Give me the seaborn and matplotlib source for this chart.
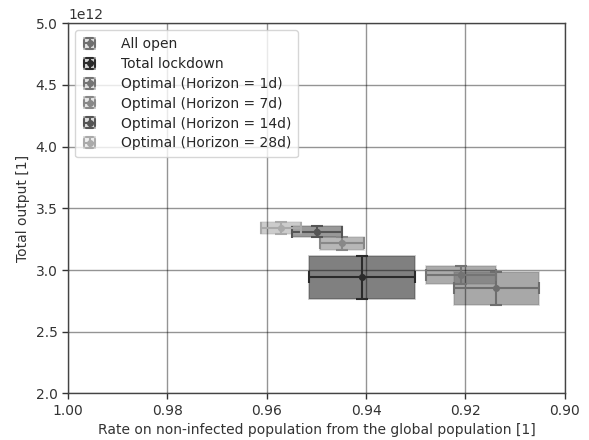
import numpy as np
import pandas as pd
import matplotlib
matplotlib.use("Agg")
import matplotlib.pyplot as plt
from matplotlib.patches import Rectangle
from matplotlib.lines import Line2D
from matplotlib.legend_handler import HandlerBase
from matplotlib.colors import to_rgba
import seaborn as sns

names = ["All open", "Total lockdown", "Optimal (Horizon = 1d)",
         "Optimal (Horizon = 7d)", "Optimal (Horizon = 14d)", "Optimal (Horizon = 28d)"]
rate_mean = [0.9138, 0.9408, 0.9209, 0.9449, 0.9499, 0.9571]
rate_std = [0.0086, 0.0106, 0.0071, 0.0044, 0.0051, 0.0040]
output_mean = [2.852e12, 2.941e12, 2.959e12, 3.217e12, 3.311e12, 3.338e12]
output_std = [0.133e12, 0.174e12, 0.071e12, 0.053e12, 0.043e12, 0.050e12]
colors = ["#6e6e6e", "#2b2b2b", "#747474", "#888888", "#555555", "#aaaaaa"]

df = pd.DataFrame({"name": names, "rate": rate_mean, "rate_std": rate_std,
                   "output": output_mean, "output_std": output_std})


class BoxErrHandle:
    def __init__(self, color):
        self.color = color


class BoxErrHandler(HandlerBase):
    def create_artists(self, legend, orig_handle, xdescent, ydescent, width,
                       height, fontsize, trans):
        c = orig_handle.color
        w = min(width, height)
        x0 = -xdescent + (width - w) / 2
        y0 = -ydescent + (height - w) / 2
        cx, cy = x0 + w / 2, y0 + w / 2
        arts = []
        arts.append(Rectangle((x0, y0), w, w, facecolor=to_rgba(c, 0.2),
                              edgecolor=to_rgba(c, 0.55), lw=1.2, transform=trans))
        cap = w * 0.3
        segs = [([x0, x0 + w], [cy, cy]), ([cx, cx], [y0, y0 + w]),
                ([x0, x0], [cy - cap, cy + cap]), ([x0 + w, x0 + w], [cy - cap, cy + cap]),
                ([cx - cap, cx + cap], [y0, y0]), ([cx - cap, cx + cap], [y0 + w, y0 + w])]
        for xs, ys in segs:
            arts.append(Line2D(xs, ys, color=c, lw=1.5, transform=trans))
        arts.append(Line2D([cx], [cy], marker='o', ms=4, color=c, transform=trans))
        return arts


sns.set_theme(style="ticks")
plt.rcParams['font.family'] = ['DejaVu Sans']

fig = plt.figure(figsize=(5.89, 4.40), dpi=100)
ax = fig.add_axes([0.1155, 0.106, 0.8435, 0.841])

handles = []
for i, row in df.iterrows():
    c = colors[i]
    rect = Rectangle((row.rate - row.rate_std, row.output - row.output_std),
                     2 * row.rate_std, 2 * row.output_std,
                     facecolor=to_rgba(c, 0.6), edgecolor=to_rgba(c, 0.3),
                     lw=1.2, zorder=1)
    ax.add_patch(rect)
    ax.errorbar(row.rate, row.output, xerr=row.rate_std, yerr=row.output_std,
                fmt='o', color=c, ms=4, elinewidth=1.5, capsize=4,
                capthick=1.5, zorder=3)
    handles.append(BoxErrHandle(c))

sns.scatterplot(data=df, x="rate", y="output", hue="name", palette=colors,
                s=18, legend=False, ax=ax, zorder=4, edgecolor='none')

ax.set_xlim(1.00, 0.90)
ax.set_ylim(2.0e12, 5.0e12)
ax.set_xticks([1.00, 0.98, 0.96, 0.94, 0.92, 0.90])
ax.set_yticks(np.arange(2.0e12, 5.01e12, 0.5e12))
ax.grid(True, color='black', alpha=0.42, lw=1.0, zorder=1.5)
ax.set_axisbelow('line')
for s in ax.spines.values():
    s.set_color('#444444')
    s.set_linewidth(1.0)
ax.tick_params(colors='#333333', labelsize=10, length=4, width=1.0)
ax.set_xlabel("Rate on non-infected population from the global population [1]", fontsize=10, color='#333333')
ax.set_ylabel("Total output [1]", fontsize=10, color='#333333')
ax.yaxis.get_offset_text().set_fontsize(10)

leg = ax.legend(handles, names, loc='upper left', fontsize=10,
                handler_map={BoxErrHandle: BoxErrHandler()},
                handlelength=1.1, handleheight=0.85, handletextpad=1.7,
                labelspacing=0.42, borderpad=0.5, framealpha=0.8)

fig.savefig("out.png", dpi=100)
